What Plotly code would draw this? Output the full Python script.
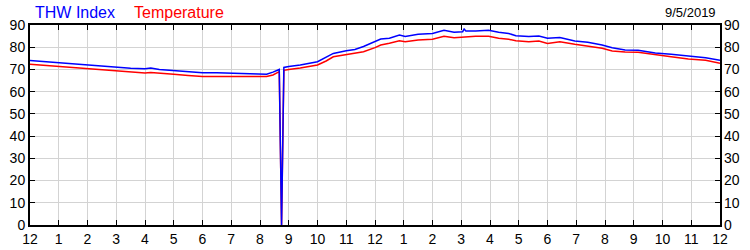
import plotly.graph_objects as go

# Hours since midnight
times = [0, 0.5, 1, 1.5, 2, 2.5, 3, 3.5, 4,
         4.2, 4.5, 5, 5.5, 6, 6.5, 7, 7.5, 8,
         8.23, 8.45, 8.67, 8.75, 8.83,
         9.0, 9.4, 10.0, 10.3, 10.55,
         11.0, 11.3, 11.6, 12.0,
         12.2, 12.5, 12.85, 13.05, 13.5,
         14.0, 14.4, 14.75, 15.05, 15.1, 15.16,
         15.5, 15.95, 16.3, 16.65, 16.9,
         17.35, 17.7, 18.0,
         18.43, 18.95, 19.4, 19.9, 20.25,
         20.7, 21.15, 21.75, 22.3, 22.9, 23.5, 24]

thw_index = [74.0, 73.5, 73.0, 72.3, 71.7, 71.3, 70.8, 70.5, 70.3,
             70.6, 70.0, 69.6, 69.0, 68.5, 68.5, 68.3, 68.0, 67.8,
             67.8, 68.8, 70.0, 0, 70.9,
             71.3, 72.0, 73.5, 75.5, 77.2,
             78.4, 79.0, 80.3, 82.5,
             83.7, 84.0, 85.5, 84.8, 85.8,
             86.2, 87.6, 86.7, 87.0, 88.2, 87.3,
             87.3, 87.6, 86.7, 86.2, 85.2,
             84.8, 85.0, 84.0,
             84.4, 82.8, 82.2, 81.0, 79.8,
             78.8, 78.6, 77.4, 76.8, 75.9, 75.3, 74.1]

temperature = [72.3, 71.8, 71.1, 70.6, 70.2, 69.8, 69.3, 68.9, 68.4,
               68.6, 68.2, 67.8, 67.3, 66.8, 66.8, 66.8, 66.8, 66.8,
               66.8, 67.5, 69.0, 0, 69.6,
               70.0, 70.6, 72.0, 73.8, 75.7,
               76.7, 77.2, 78.0, 79.8,
               81.0, 81.8, 82.9, 82.5, 83.2,
               83.6, 84.9, 84.3, 84.6, 84.8, 84.8,
               84.9, 84.9, 84.0, 83.6, 82.9,
               82.5, 82.8, 81.7,
               82.5, 81.3, 80.4, 79.5, 78.3,
               77.8, 77.7, 76.5, 75.7, 74.7, 74.1, 72.8]

tick_hours = list(range(0, 25))
tick_labels = ["12", "1", "2", "3", "4", "5", "6", "7", "8", "9", "10", "11",
               "12", "1", "2", "3", "4", "5", "6", "7", "8", "9", "10", "11", "12"]
y_ticks = list(range(0, 100, 10))

series_names = ["THW Index", "Temperature"]
series_colors = ["#0000ff", "#ff0000"]
date_label = "9/5/2019"

FONT = "Liberation Sans, Arial, sans-serif"

fig = go.Figure()
fig.add_trace(go.Scatter(x=times, y=temperature, mode="lines", name=series_names[1],
                         line=dict(color=series_colors[1], width=1.5), showlegend=False))
fig.add_trace(go.Scatter(x=times, y=thw_index, mode="lines", name=series_names[0],
                         line=dict(color=series_colors[0], width=1.5), showlegend=False))
# invisible trace to show right-hand axis labels
fig.add_trace(go.Scatter(x=[None], y=[None], yaxis="y2", showlegend=False, hoverinfo="skip"))

axis_common = dict(
    showline=True, linecolor="black", linewidth=2,
    showgrid=True, gridcolor="#d3d3d3", gridwidth=1,
    ticks="inside", ticklen=5, tickcolor="black", tickwidth=1,
    tickfont=dict(family=FONT, size=14, color="black"),
    zeroline=False, automargin=False,
)

fig.update_layout(
    width=750, height=250,
    margin=dict(l=30, r=30, t=25, b=25, autoexpand=False),
    paper_bgcolor="white", plot_bgcolor="white",
    xaxis=dict(range=[0, 24], tickvals=tick_hours, ticktext=tick_labels,
               mirror="ticks", **axis_common),
    yaxis=dict(range=[0, 90], tickvals=y_ticks, mirror="ticks", **axis_common),
    yaxis2=dict(range=[0, 90], tickvals=y_ticks, overlaying="y", side="right",
                showgrid=False, showline=False, ticks="", ticklabelstandoff=3,
                automargin=False,
                tickfont=dict(family=FONT, size=14, color="black"), zeroline=False),
    annotations=[
        dict(text=series_names[0], xref="paper", yref="paper", x=3 / 690, y=1 + 13 / 200,
             xanchor="left", yanchor="middle", showarrow=False,
             font=dict(family=FONT, size=16, color=series_colors[0])),
        dict(text=series_names[1], xref="paper", yref="paper", x=102 / 690, y=1 + 13 / 200,
             xanchor="left", yanchor="middle", showarrow=False,
             font=dict(family=FONT, size=16, color=series_colors[1])),
        dict(text=date_label, xref="paper", yref="paper", x=1 - 2 / 690, y=1 + 13 / 200,
             xanchor="right", yanchor="middle", showarrow=False,
             font=dict(family=FONT, size=13, color="black")),
    ],
)

fig.write_html("out.html")
